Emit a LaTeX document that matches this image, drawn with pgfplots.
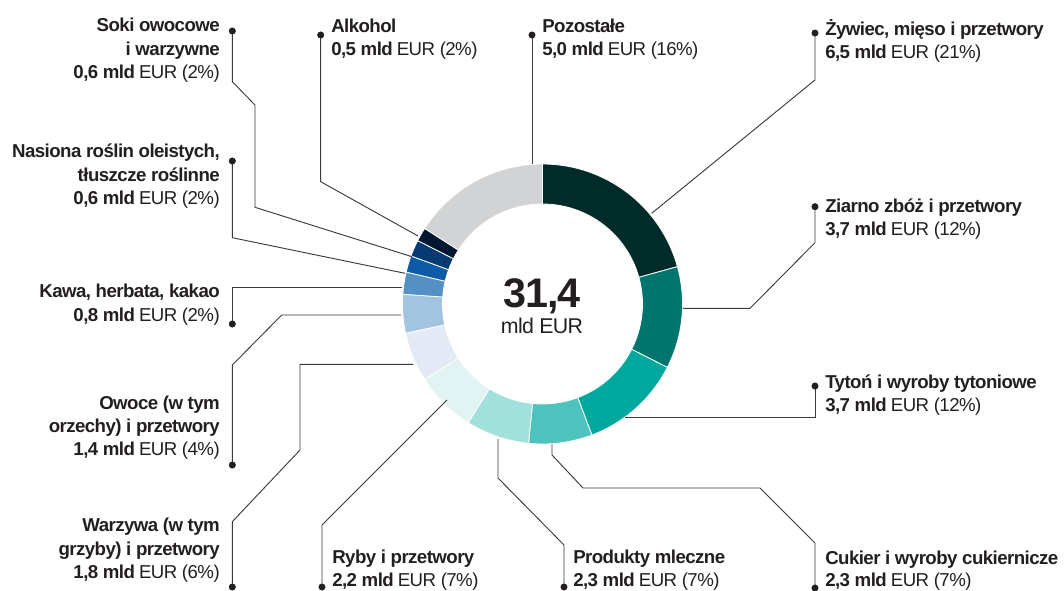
\documentclass[border=0pt]{standalone}
\usepackage{pgfplots}
\usepackage{pgfplotstable}
\pgfplotsset{compat=1.18}
\usepackage{fontspec}
\setmainfont[LetterSpace=-3]{Liberation Sans}

\definecolor{c0}{HTML}{002B29}
\definecolor{c1}{HTML}{00756E}
\definecolor{c2}{HTML}{00A89D}
\definecolor{c3}{HTML}{4EC3BD}
\definecolor{c4}{HTML}{A2E0DB}
\definecolor{c5}{HTML}{E1F4F3}
\definecolor{c6}{HTML}{E3EAF5}
\definecolor{c7}{HTML}{A3C4E0}
\definecolor{c8}{HTML}{5590C4}
\definecolor{c9}{HTML}{0D5AA6}
\definecolor{c10}{HTML}{073A72}
\definecolor{c11}{HTML}{001731}
\definecolor{c12}{HTML}{D1D3D4}
\definecolor{txt}{HTML}{231F20}
\definecolor{lead}{HTML}{3A3A3A}

\pgfplotstableread{
label value
Zywiec 6.5
Ziarno 3.7
Tyton 3.7
Cukier 2.3
Mleczne 2.3
Ryby 2.2
Warzywa 1.8
Owoce 1.4
Kawa 0.8
Nasiona 0.6
Soki 0.6
Alkohol 0.5
Pozostale 5.0
}\datatable

\def\cx{542.5}
\def\cy{304}
\gdef\cumval{0}
\foreach \i in {0,...,12}{%
  \pgfplotstablegetelem{\i}{value}\of\datatable
  \let\v\pgfplotsretval
  \pgfmathsetmacro\aS{90-\cumval*360/31.4}%
  \pgfmathsetmacro\newcum{\cumval+\v}%
  \pgfmathsetmacro\aE{90-\newcum*360/31.4}%
  \pgfmathsetmacro\px{\cx+140*cos(\aS)}%
  \pgfmathsetmacro\py{\cy-140*sin(\aS)}%
  \pgfmathsetmacro\qx{\cx+100*cos(\aE)}%
  \pgfmathsetmacro\qy{\cy-100*sin(\aE)}%
  \expandafter\xdef\csname aS\i\endcsname{\aS}%
  \expandafter\xdef\csname aE\i\endcsname{\aE}%
  \expandafter\xdef\csname px\i\endcsname{\px}%
  \expandafter\xdef\csname py\i\endcsname{\py}%
  \expandafter\xdef\csname qx\i\endcsname{\qx}%
  \expandafter\xdef\csname qy\i\endcsname{\qy}%
  \xdef\cumval{\newcum}%
}

\newcommand\lab{\fontsize{14}{16}\selectfont}
\tikzset{
  L/.style={anchor=base east, inner sep=0pt, font=\lab, text=txt},
  R/.style={anchor=base west, inner sep=0pt, font=\lab, text=txt},
}

\begin{document}
\begin{tikzpicture}
\begin{axis}[scale only axis, width=798pt, height=442.5pt,
  xmin=0, xmax=1064, ymin=0, ymax=590, y dir=reverse,
  hide axis, clip=false]

% donut
\pgfplotsinvokeforeach{0,...,12}{
  \fill[c#1, draw=white, line width=0.6pt]
    (axis cs:\csname px#1\endcsname,\csname py#1\endcsname)
    arc[start angle=\csname aS#1\endcsname, end angle=\csname aE#1\endcsname, radius=105pt]
    -- (axis cs:\csname qx#1\endcsname,\csname qy#1\endcsname)
    arc[start angle=\csname aE#1\endcsname, end angle=\csname aS#1\endcsname, radius=75pt]
    -- cycle;
}

% leader lines
\pgfplotsset{leader/.style={draw=lead, line width=0.7pt, mark=none, forget plot}}
\addplot[leader] coordinates {(232.3,31)(232.3,81.7)(255,105)(255,207.3)(412,256.7)};
\addplot[leader] coordinates {(232.3,161)(232.3,237.7)(405,273.3)};
\addplot[leader] coordinates {(232.3,324)(232.3,287.3)(401.7,287.3)};
\addplot[leader] coordinates {(232.3,465)(232.3,365)(281.7,315)(401,315)};
\addplot[leader] coordinates {(232.3,587)(232.3,521.7)(300,450)(300,364.3)(413.3,364.3)};
\addplot[leader] coordinates {(322,587)(322,525)(447,400)};
\addplot[leader] coordinates {(564,587)(564,545)(498,478)(498,439)};
\addplot[leader] coordinates {(815,588)(815,543)(760,488)(583,488)(552,455)(552,444)};
\addplot[leader] coordinates {(815,386)(815,417.5)(625,417.5)};
\addplot[leader] coordinates {(815,206.7)(815,242.7)(750,308.3)(683,308.3)};
\addplot[leader] coordinates {(815,33)(815,80)(651.7,213.3)};
\addplot[leader] coordinates {(532,35)(532,164)};
\addplot[leader] coordinates {(320.7,35)(320.7,181.7)(418,236)};

% dots
\addplot[only marks, mark=*, mark size=2.4pt, color=txt, forget plot] coordinates {
(232.3,31)(232.3,161)(232.3,324)(232.3,465)(232.3,587)
(320.7,35)(532,35)(815,33)(815,206.7)(815,386)(815,588)(322,587)(564,587)};

% center
\node[anchor=base, inner sep=0pt, text=txt, font=\fontsize{31}{32}\selectfont\bfseries] at (axis cs:542,307) {31,4};
\node[anchor=base, inner sep=0pt, text=txt, font=\fontsize{16}{18}\selectfont] at (axis cs:542,333) {mld EUR};

% left labels
\node[L] at (axis cs:220,31.7) {\bfseries Soki owocowe};
\node[L] at (axis cs:220,55) {\bfseries i warzywne};
\node[L] at (axis cs:220,78.5) {\textbf{0,6 mld} EUR (2\%)};

\node[L] at (axis cs:220,157.5) {\bfseries Nasiona roślin oleistych,};
\node[L] at (axis cs:220,181) {\bfseries tłuszcze roślinne};
\node[L] at (axis cs:220,204.5) {\textbf{0,6 mld} EUR (2\%)};

\node[L] at (axis cs:220,297) {\bfseries Kawa, herbata, kakao};
\node[L] at (axis cs:220,321) {\textbf{0,8 mld} EUR (2\%)};

\node[L] at (axis cs:220,409) {\bfseries Owoce (w tym};
\node[L] at (axis cs:220,432.5) {\bfseries orzechy) i przetwory};
\node[L] at (axis cs:220,455.5) {\textbf{1,4 mld} EUR (4\%)};

\node[L] at (axis cs:220,531.5) {\bfseries Warzywa (w tym};
\node[L] at (axis cs:220,555) {\bfseries grzyby) i przetwory};
\node[L] at (axis cs:220,578.5) {\textbf{1,8 mld} EUR (6\%)};

% top labels
\node[R] at (axis cs:331,32) {\bfseries Alkohol};
\node[R] at (axis cs:331,55.5) {\textbf{0,5 mld} EUR (2\%)};
\node[R] at (axis cs:542,32) {\bfseries Pozostałe};
\node[R] at (axis cs:542,55.5) {\textbf{5,0 mld} EUR (16\%)};

% right labels
\node[R] at (axis cs:825,35) {\bfseries Żywiec, mięso i przetwory};
\node[R] at (axis cs:825,58.5) {\textbf{6,5 mld} EUR (21\%)};
\node[R] at (axis cs:825,212.3) {\bfseries Ziarno zbóż i przetwory};
\node[R] at (axis cs:825,235.8) {\textbf{3,7 mld} EUR (12\%)};
\node[R] at (axis cs:825,388.3) {\bfseries Tytoń i wyroby tytoniowe};
\node[R] at (axis cs:825,411.7) {\textbf{3,7 mld} EUR (12\%)};
\node[R] at (axis cs:825,564) {\bfseries Cukier i wyroby cukiernicze};
\node[R] at (axis cs:825,586.7) {\textbf{2,3 mld} EUR (7\%)};

% bottom labels
\node[R] at (axis cs:332,563.3) {\bfseries Ryby i przetwory};
\node[R] at (axis cs:332,586.7) {\textbf{2,2 mld} EUR (7\%)};
\node[R] at (axis cs:573,563.3) {\bfseries Produkty mleczne};
\node[R] at (axis cs:573,586.7) {\textbf{2,3 mld} EUR (7\%)};
\end{axis}
\pgfresetboundingbox
\useasboundingbox (current axis.south west) rectangle (current axis.north east);
\end{tikzpicture}
\end{document}
